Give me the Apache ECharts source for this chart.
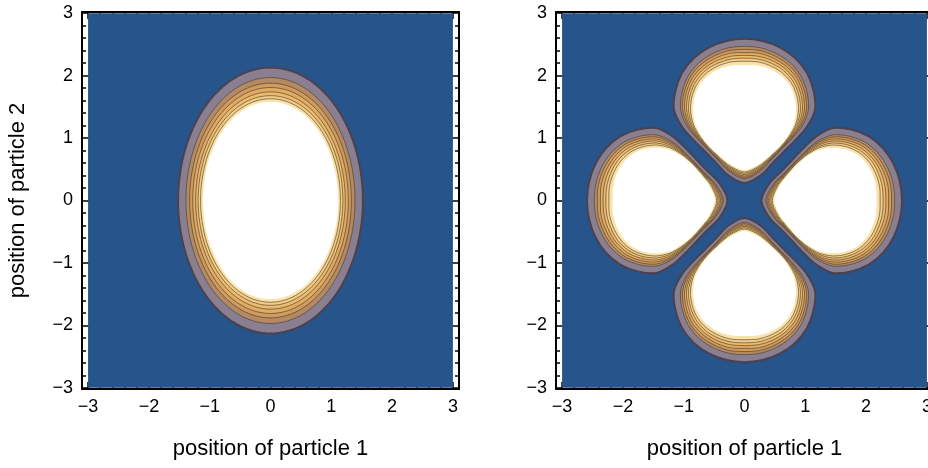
<!DOCTYPE html>
<html><head><meta charset="utf-8">
<script src="https://cdn.jsdelivr.net/npm/echarts@6/dist/echarts.min.js"></script>
<style>html,body{margin:0;padding:0;background:#fff}#c{width:928px;height:468px}</style>
</head><body><div id="c"></div>
<script>
// ---- data ----
const tickValues = [-3, -2, -1, 0, 1, 2, 3];
const minorTickValues = [-3, -2.8, -2.6, -2.4, -2.2, -2, -1.8, -1.6, -1.4, -1.2, -1, -0.8, -0.6, -0.4, -0.2, 0,
  0.2, 0.4, 0.6, 0.8, 1, 1.2, 1.4, 1.6, 1.8, 2, 2.2, 2.4, 2.6, 2.8, 3];
const plotRange = [-3, 3];
const xTitle = 'position of particle 1';
const yTitle = 'position of particle 2';

// fill colour of each contour level (outermost first), last = region above top contour
const levelColors = ['#8a7f90', '#b48a64', '#cf9b5e', '#e0ab63', '#ebbb6e', '#f3cd87', '#f9e1aa', '#ffffff'];
const backgroundColor = '#27548a';

// left panel: semi-axes (x, y) of each contour level, outermost first
const leftSemiX = [1.52, 1.39, 1.33, 1.28, 1.23, 1.19, 1.15, 1.12];
const leftSemiY = [2.13, 1.97, 1.88, 1.81, 1.74, 1.68, 1.63, 1.59];

// right panel: each lobe sits on an axis at this distance from the origin
const lobeCenter = 1.45;
// half-lobe outline: angle (deg) around the lobe centre and radius per contour level
const lobeAngles = [90, 75, 60, 45, 30, 15, 0, -15, -30, -45, -60, -75, -90];
const lobeLevel0 = [1.14, 1.145, 1.16, 1.178, 1.187, 1.176, 1.16, 1.06, 0.966, 0.93, 0.96, 1.075, 1.17];
const lobeLevel1 = [1.02, 1.03, 1.045, 1.065, 1.075, 1.065, 1.05, 0.98, 0.905, 0.875, 0.905, 1.01, 1.10];
const lobeLevel2 = [0.97, 0.985, 1.00, 1.023, 1.037, 1.03, 1.018, 0.958, 0.893, 0.867, 0.895, 0.993, 1.078];
const lobeLevel3 = [0.92, 0.94, 0.957, 0.98, 1.00, 0.995, 0.985, 0.937, 0.88, 0.858, 0.885, 0.977, 1.057];
const lobeLevel4 = [0.875, 0.89, 0.913, 0.94, 0.96, 0.96, 0.953, 0.915, 0.868, 0.85, 0.875, 0.96, 1.035];
const lobeLevel5 = [0.83, 0.845, 0.868, 0.90, 0.92, 0.925, 0.92, 0.893, 0.855, 0.842, 0.865, 0.943, 1.013];
const lobeLevel6 = [0.78, 0.80, 0.825, 0.857, 0.883, 0.89, 0.888, 0.872, 0.843, 0.833, 0.855, 0.927, 0.992];
const lobeLevel7 = [0.73, 0.75, 0.78, 0.815, 0.845, 0.855, 0.855, 0.85, 0.83, 0.825, 0.845, 0.91, 0.97];
const lobeLevels = [lobeLevel0, lobeLevel1, lobeLevel2, lobeLevel3, lobeLevel4, lobeLevel5, lobeLevel6, lobeLevel7];

// ---- styling ----
const FONT = "'Liberation Sans', Arial, sans-serif";
const outerStroke = '#4a4250';
const innerStroke = 'rgba(70,55,40,0.6)';
const coreStroke = '#fbe2a4';

function fmt(v) { return v < 0 ? '\u2212' + Math.abs(v) : String(v); }

function xAxisCfg(grid, pos, minor, labels) {
  return {
    type: 'value', gridIndex: grid, position: pos, min: -3.1, max: 3.1,
    axisLine: { show: !minor, onZero: false, lineStyle: { color: '#000', width: 2 } },
    splitLine: { show: false },
    axisTick: { show: true, inside: true, customValues: minor ? minorTickValues : tickValues,
      length: minor ? 4 : 7, lineStyle: { color: '#000', width: 1.5 } },
    axisLabel: { show: labels, customValues: tickValues, formatter: fmt, color: '#000',
      fontSize: 18, fontFamily: FONT, margin: 9 },
    name: labels ? xTitle : '', nameLocation: 'middle', nameGap: 49,
    nameTextStyle: { color: '#000', fontSize: 22, fontFamily: FONT }
  };
}
function yAxisCfg(grid, pos, minor, labels, title) {
  return {
    type: 'value', gridIndex: grid, position: pos, min: -3.02, max: 3.02,
    axisLine: { show: !minor, onZero: false, lineStyle: { color: '#000', width: 2 } },
    splitLine: { show: false },
    axisTick: { show: true, inside: true, customValues: minor ? minorTickValues : tickValues,
      length: minor ? 4 : 7, lineStyle: { color: '#000', width: 1.5 } },
    axisLabel: { show: labels, customValues: tickValues, formatter: fmt, color: '#000',
      fontSize: 18, fontFamily: FONT, margin: 9 },
    name: title ? yTitle : '', nameLocation: 'middle', nameGap: 53,
    nameTextStyle: { color: '#000', fontSize: 22, fontFamily: FONT }
  };
}

const xAxes = [], yAxes = [];
[0, 1].forEach(g => {
  xAxes.push(xAxisCfg(g, 'bottom', false, true), xAxisCfg(g, 'top', false, false),
             xAxisCfg(g, 'bottom', true, false), xAxisCfg(g, 'top', true, false));
  yAxes.push(yAxisCfg(g, 'left', false, true, g === 0), yAxisCfg(g, 'right', false, false, false),
             yAxisCfg(g, 'left', true, false, false), yAxisCfg(g, 'right', true, false, false));
});

function bgSeries(axisIdx) {
  return {
    type: 'custom', xAxisIndex: axisIdx, yAxisIndex: axisIdx, clip: true, silent: true,
    data: [[plotRange[0], plotRange[1]]],
    renderItem: (params, api) => {
      const p0 = api.coord([api.value(0), api.value(1)]);
      const p1 = api.coord([api.value(1), api.value(0)]);
      return { type: 'rect', shape: { x: p0[0], y: p0[1], width: p1[0] - p0[0], height: p1[1] - p0[1] },
        style: { fill: backgroundColor } };
    }
  };
}

function levelStyle(i, n) {
  return {
    fill: levelColors[i],
    stroke: i === 0 ? outerStroke : (i === n - 1 ? coreStroke : innerStroke),
    lineWidth: i === 0 ? 2 : 1
  };
}

const leftSeries = {
  type: 'custom', xAxisIndex: 0, yAxisIndex: 0, clip: true, silent: true,
  data: leftSemiX.map((a, i) => [a, leftSemiY[i], i]),
  renderItem: (params, api) => {
    const a = api.value(0), b = api.value(1), i = api.value(2);
    const pts = [];
    const N = 120;
    for (let k = 0; k < N; k++) {
      const t = 2 * Math.PI * k / N;
      pts.push(api.coord([a * Math.cos(t), b * Math.sin(t)]));
    }
    return { type: 'polygon', z2: i, shape: { points: pts }, style: levelStyle(i, leftSemiX.length) };
  }
};

const rightSeries = {
  type: 'custom', xAxisIndex: 4, yAxisIndex: 4, clip: true, silent: true,
  data: lobeLevels.map((r, i) => [i]),
  renderItem: (params, api) => {
    const i = api.value(0);
    const radii = lobeLevels[i];
    const local = [];
    for (let k = 0; k < lobeAngles.length; k++) {
      const t = lobeAngles[k] * Math.PI / 180;
      local.push([radii[k] * Math.cos(t), lobeCenter + radii[k] * Math.sin(t)]);
    }
    for (let k = lobeAngles.length - 2; k > 0; k--) {
      const t = lobeAngles[k] * Math.PI / 180;
      local.push([-radii[k] * Math.cos(t), lobeCenter + radii[k] * Math.sin(t)]);
    }
    const children = [];
    for (let q = 0; q < 4; q++) {
      const c = Math.cos(q * Math.PI / 2), s = Math.sin(q * Math.PI / 2);
      const pts = local.map(p => api.coord([p[0] * c - p[1] * s, p[0] * s + p[1] * c]));
      children.push({ type: 'polygon', shape: { points: pts, smooth: 0.3 }, style: levelStyle(i, lobeLevels.length) });
    }
    return { type: 'group', z2: i, children };
  }
};

const chart = echarts.init(document.getElementById('c'), null, { renderer: 'canvas' });
chart.setOption({
  animation: false,
  backgroundColor: '#fff',
  grid: [
    { left: 82, top: 12, width: 377, height: 377, outerBoundsMode: 'none', containLabel: false },
    { left: 556, top: 12, width: 377, height: 377, outerBoundsMode: 'none', containLabel: false }
  ],
  xAxis: xAxes,
  yAxis: yAxes,
  series: [bgSeries(0), leftSeries, bgSeries(4), rightSeries]
});
</script>
</body></html>
